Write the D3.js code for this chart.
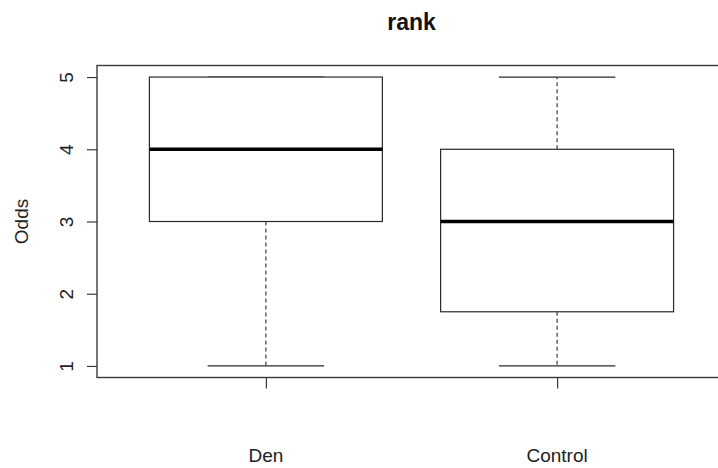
<!DOCTYPE html>
<html>
<head>
<meta charset="utf-8">
<script src="https://cdn.jsdelivr.net/npm/d3@7"></script>
<style>
  html, body { margin: 0; padding: 0; background: #fff; }
  svg { display: block; font-family: "Liberation Sans", Arial, sans-serif; }
</style>
</head>
<body>
<div id="chart"></div>
<script>
// Box statistics per group
const groups = ["Den", "Control"];
const lowerWhisker = [1, 1];
const q1 = [3, 1.75];
const median = [4, 3];
const q3 = [5, 4];
const upperWhisker = [5, 5];
const yTicks = [1, 2, 3, 4, 5];

const width = 718;
const height = 468;

// R style plot region: 4% padding on each axis range
const x = d3.scaleLinear().domain([0.42, 2.58]).range([97, 726]);
const y = d3.scaleLinear().domain([0.84, 5.16]).range([377.5, 65.5]);

const data = groups.map((g, i) => ({
  name: g, pos: i + 1,
  lo: lowerWhisker[i], q1: q1[i], med: median[i], q3: q3[i], hi: upperWhisker[i]
}));

const svg = d3.select("#chart").append("svg")
    .attr("width", width)
    .attr("height", height);

const ink = "#2a2a2a";

// boxes
const g = svg.append("g").selectAll("g")
  .data(data)
  .join("g");

// whiskers (dashed)
g.append("line")
    .attr("x1", d => x(d.pos)).attr("x2", d => x(d.pos))
    .attr("y1", d => y(d.q1)).attr("y2", d => y(d.lo))
    .attr("stroke", ink).attr("stroke-width", 1.1).attr("stroke-dasharray", "4,3");
g.append("line")
    .attr("x1", d => x(d.pos)).attr("x2", d => x(d.pos))
    .attr("y1", d => y(d.q3)).attr("y2", d => y(d.hi))
    .attr("stroke", ink).attr("stroke-width", 1.1).attr("stroke-dasharray", "4,3");

// staples
[d => d.lo, d => d.hi].forEach(acc => {
  g.append("line")
      .attr("x1", d => x(d.pos - 0.2)).attr("x2", d => x(d.pos + 0.2))
      .attr("y1", d => y(acc(d))).attr("y2", d => y(acc(d)))
      .attr("stroke", ink).attr("stroke-width", 1.2);
});

g.append("rect")
    .attr("x", d => x(d.pos - 0.4))
    .attr("width", d => x(d.pos + 0.4) - x(d.pos - 0.4))
    .attr("y", d => y(d.q3))
    .attr("height", d => y(d.q1) - y(d.q3))
    .attr("fill", "#fff")
    .attr("stroke", ink)
    .attr("stroke-width", 1.2);

// medians
g.append("line")
    .attr("x1", d => x(d.pos - 0.4)).attr("x2", d => x(d.pos + 0.4))
    .attr("y1", d => y(d.med)).attr("y2", d => y(d.med))
    .attr("stroke", "#000").attr("stroke-width", 3.5);

// frame
svg.append("rect")
    .attr("x", x.range()[0]).attr("y", y.range()[1])
    .attr("width", x.range()[1] - x.range()[0])
    .attr("height", y.range()[0] - y.range()[1])
    .attr("fill", "none")
    .attr("stroke", "#3a3a3a")
    .attr("stroke-width", 1.4);

// y axis
const gy = svg.append("g")
    .attr("transform", `translate(${x.range()[0]},0)`)
    .call(d3.axisLeft(y).tickValues(yTicks).tickSize(10).tickSizeOuter(0).tickFormat(d3.format("d")));
gy.select(".domain").remove();
gy.selectAll(".tick line").attr("stroke", "#3a3a3a").attr("stroke-width", 1.2);
gy.selectAll(".tick text")
    .attr("transform", "rotate(-90)")
    .attr("x", 0).attr("y", -24).attr("dy", null)
    .attr("text-anchor", "middle")
    .attr("fill", "#222")
    .style("font-size", "19px")
    .style("font-family", "'Liberation Sans', Arial, sans-serif");

// x axis ticks
const gx = svg.append("g")
    .attr("transform", `translate(0,${y.range()[0]})`)
    .call(d3.axisBottom(x).tickValues(data.map(d => d.pos)).tickSize(11).tickFormat(""));
gx.select(".domain").remove();
gx.selectAll(".tick line").attr("stroke", "#3a3a3a").attr("stroke-width", 1.2);

// group labels
svg.append("g").selectAll("text")
  .data(data)
  .join("text")
    .attr("x", d => x(d.pos))
    .attr("y", 462)
    .attr("text-anchor", "middle")
    .attr("fill", "#222")
    .style("font-size", "19px")
    .text(d => d.name);

// axis title
svg.append("text")
    .attr("transform", `translate(28,${(y.range()[0] + y.range()[1]) / 2}) rotate(-90)`)
    .attr("text-anchor", "middle")
    .attr("fill", "#222")
    .style("font-size", "19px")
    .text("Odds");

// main title
svg.append("text")
    .attr("x", (x.range()[0] + x.range()[1]) / 2)
    .attr("y", 30)
    .attr("text-anchor", "middle")
    .attr("fill", "#111")
    .style("font-size", "23px")
    .style("font-weight", "bold")
    .text("rank");
</script>
</body>
</html>
